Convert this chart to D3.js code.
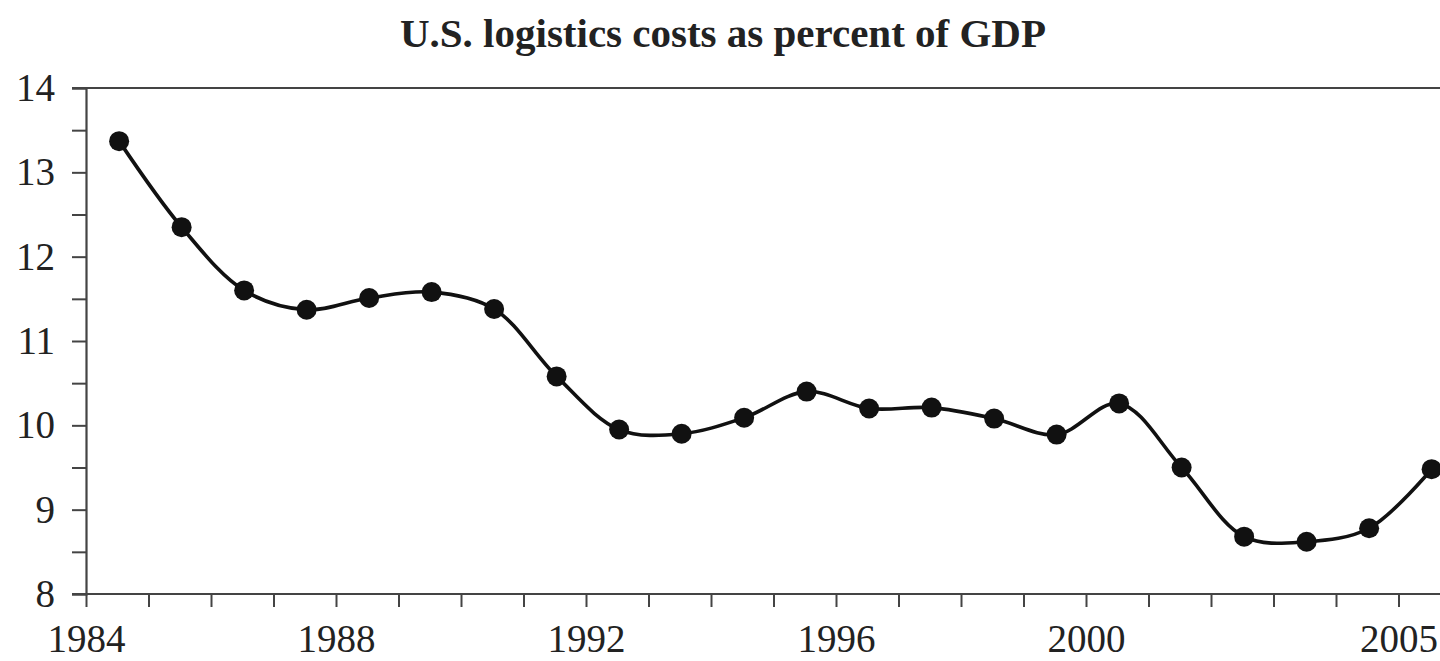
<!DOCTYPE html>
<html>
<head>
<meta charset="utf-8">
<script src="https://cdn.jsdelivr.net/npm/d3@7"></script>
<style>
  html, body { margin: 0; padding: 0; background: #ffffff; }
  svg { display: block; }
  text { font-family: "Liberation Serif", "DejaVu Serif", serif; fill: #222; }
</style>
</head>
<body>
<svg id="chart" width="1440" height="661"></svg>
<script>
const title = "U.S. logistics costs as percent of GDP";
const years = [1984, 1985, 1986, 1987, 1988, 1989, 1990, 1991, 1992, 1993, 1994,
               1995, 1996, 1997, 1998, 1999, 2000, 2001, 2002, 2003, 2004, 2005];
const values = [13.37, 12.35, 11.60, 11.37, 11.51, 11.58, 11.38, 10.58, 9.95, 9.90, 10.09,
                10.40, 10.20, 10.21, 10.08, 9.89, 10.26, 9.50, 8.68, 8.62, 8.78, 9.48];
const xTickLabels = [1984, 1988, 1992, 1996, 2000, 2005];
const yTickLabels = [8, 9, 10, 11, 12, 13, 14];

(function () {
const svg = d3.select("#chart");
const mLeft = 86, mTop = 88, mBottom = 594, mRight = 1440;

const x = d3.scaleLinear().domain([1984, 1984 + (mRight - mLeft) / 62.5]).range([mLeft, mRight]);
const y = d3.scaleLinear().domain([8, 14]).range([mBottom, mTop]);

const axisColor = "#444";

// title
svg.append("text")
  .attr("x", 723).attr("y", 47)
  .attr("text-anchor", "middle")
  .style("font-size", "41px").style("font-weight", "bold")
  .text(title);

// y axis
const yAxis = d3.axisLeft(y)
  .tickValues(d3.range(8, 14.01, 0.5))
  .tickSize(14)
  .tickFormat(d => yTickLabels.includes(d) ? d : "");
const gy = svg.append("g").attr("transform", `translate(${mLeft},0)`).call(yAxis);
gy.select(".domain").attr("stroke", axisColor).attr("stroke-width", 2.2);
gy.selectAll(".tick line").attr("stroke", axisColor).attr("stroke-width", 2);
gy.selectAll(".tick text")
  .attr("x", -31)
  .style("font-size", "39px")
  .style("font-family", '"Liberation Serif", serif')
  .attr("fill", "#222");

// top line at 14
svg.append("line")
  .attr("x1", mLeft - 14).attr("x2", mRight)
  .attr("y1", y(14)).attr("y2", y(14))
  .attr("stroke", axisColor).attr("stroke-width", 2.2);

// x axis
const xAxis = d3.axisBottom(x)
  .tickValues(years)
  .tickSize(13)
  .tickFormat(d => xTickLabels.includes(d) ? d : "");
const gx = svg.append("g").attr("transform", `translate(0,${mBottom})`).call(xAxis);
gx.select(".domain").remove();
svg.append("line")
  .attr("x1", mLeft - 14).attr("x2", mRight)
  .attr("y1", mBottom).attr("y2", mBottom)
  .attr("stroke", axisColor).attr("stroke-width", 2.2);
gx.selectAll(".tick line").attr("stroke", axisColor).attr("stroke-width", 2);
gx.selectAll(".tick text")
  .attr("y", 30)
  .style("font-size", "39px")
  .style("font-family", '"Liberation Serif", serif')
  .attr("fill", "#222");

// data
const data = years.map((yr, i) => ({ t: yr + 0.53, v: values[i] }));

svg.append("path")
  .datum(data)
  .attr("fill", "none")
  .attr("stroke", "#111")
  .attr("stroke-width", 3.6)
  .attr("d", d3.line().x(d => x(d.t)).y(d => y(d.v)).curve(d3.curveCatmullRom.alpha(0.5)));

svg.append("g").selectAll("circle")
  .data(data)
  .join("circle")
  .attr("cx", d => x(d.t))
  .attr("cy", d => y(d.v))
  .attr("r", 10)
  .attr("fill", "#111");
})();
</script>
</body>
</html>
